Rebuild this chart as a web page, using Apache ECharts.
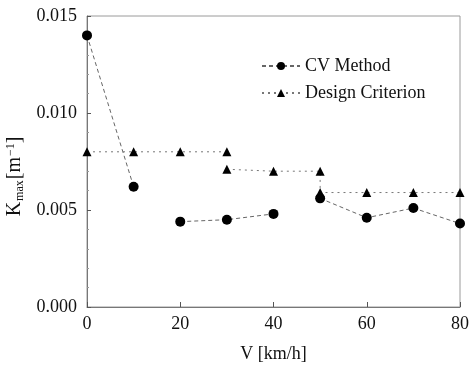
<!DOCTYPE html>
<html>
<head>
<meta charset="utf-8" />
<title>Kmax vs V</title>
<script src="https://cdn.jsdelivr.net/npm/echarts@6/dist/echarts.min.js"></script>
<style>
  html, body { margin: 0; padding: 0; background: #fff; }
  #main { width: 470px; height: 367px; }
</style>
</head>
<body>
<div id="main"></div>
<script>
// data
const speeds = [0, 10, 20, 30, 40, 50, 60, 70, 80];
const cvValues = [0.0140, 0.0062, 0.0044, 0.0045, 0.0048, 0.0056, 0.0046, 0.0051, 0.0043];
const cvBreaksAfter = [1, 4]; // no line drawn after these points

const designSpeeds = [0, 10, 20, 30, 30, 40, 50, 50, 60, 70, 80];
const designValues = [0.0080, 0.0080, 0.0080, 0.0080, 0.0071, 0.0070, 0.0070, 0.0059, 0.0059, 0.0059, 0.0059];
const designBreaksAfter = [3];

const xTicks = [0, 20, 40, 60, 80];
const yTicks = [0, 0.005, 0.010, 0.015];

function withBreaks(xs, ys, breaks) {
  const out = [];
  xs.forEach((x, i) => {
    out.push([x, ys[i]]);
    if (breaks.indexOf(i) >= 0) out.push('-');
  });
  return out;
}

const font = '"Liberation Serif", "DejaVu Serif", serif';
const chart = echarts.init(document.getElementById('main'));

chart.setOption({
  animation: false,
  backgroundColor: '#fff',
  textStyle: { fontFamily: font, color: '#111' },
  grid: {
    left: 87, right: 10, top: 16, bottom: 60,
    outerBoundsMode: 'none', containLabel: false,
    show: true, borderColor: '#9a9a9a', borderWidth: 1, backgroundColor: 'transparent'
  },
  legend: {
    left: 256, top: 52, orient: 'vertical', itemGap: 9,
    itemWidth: 38, itemHeight: 10,
    textStyle: { fontFamily: font, fontSize: 18, color: '#111' },
    data: ['CV Method', 'Design Criterion']
  },
  xAxis: {
    type: 'value',
    min: xTicks[0], max: xTicks[xTicks.length - 1], interval: 20,
    name: 'V [km/h]', nameLocation: 'middle', nameGap: 38,
    nameTextStyle: { fontFamily: font, fontSize: 18, color: '#111' },
    axisLine: { lineStyle: { color: '#777', width: 1 } },
    axisTick: { inside: true, length: 5, lineStyle: { color: '#555' } },
    axisLabel: { fontFamily: font, fontSize: 18, color: '#111', margin: 8 },
    splitLine: { show: false }
  },
  yAxis: {
    type: 'value',
    min: yTicks[0], max: yTicks[yTicks.length - 1], interval: 0.005,
    name: '{n|K}{s|max}{n|[m}{p|−1}{n|]}', nameLocation: 'middle', nameGap: 59, nameRotate: 90,
    nameTextStyle: {
      fontFamily: font, color: '#111', padding: [0, 30, 0, 0],
      rich: {
        n: { fontFamily: font, fontSize: 20, color: '#111' },
        s: { fontFamily: font, fontSize: 12, color: '#111', verticalAlign: 'bottom', padding: [8, 1, 0, 1] },
        p: { fontFamily: font, fontSize: 12, color: '#111', verticalAlign: 'top', padding: [0, 0, 9, 1] }
      }
    },
    axisLine: { show: true, lineStyle: { color: '#777', width: 1 } },
    axisTick: { inside: true, length: 4, lineStyle: { color: '#555' } },
    minorTick: { show: true, splitNumber: 5, length: 2, lineStyle: { color: '#999' } },
    axisLabel: { fontFamily: font, fontSize: 18, color: '#111', margin: 10,
      formatter: v => v.toFixed(3) },
    splitLine: { show: false }
  },
  series: [
    {
      name: 'CV Method', type: 'line',
      data: withBreaks(speeds, cvValues, cvBreaksAfter),
      connectNulls: false,
      symbol: 'circle', symbolSize: 10,
      itemStyle: { color: '#000' },
      lineStyle: { color: '#666', width: 1, type: [4, 3] },
      z: 3
    },
    {
      name: 'Design Criterion', type: 'line',
      data: withBreaks(designSpeeds, designValues, designBreaksAfter),
      connectNulls: false,
      symbol: 'triangle', symbolSize: 9,
      itemStyle: { color: '#000' },
      lineStyle: { color: '#777', width: 1, type: [2, 4] },
      z: 2
    }
  ]
});
</script>
</body>
</html>
